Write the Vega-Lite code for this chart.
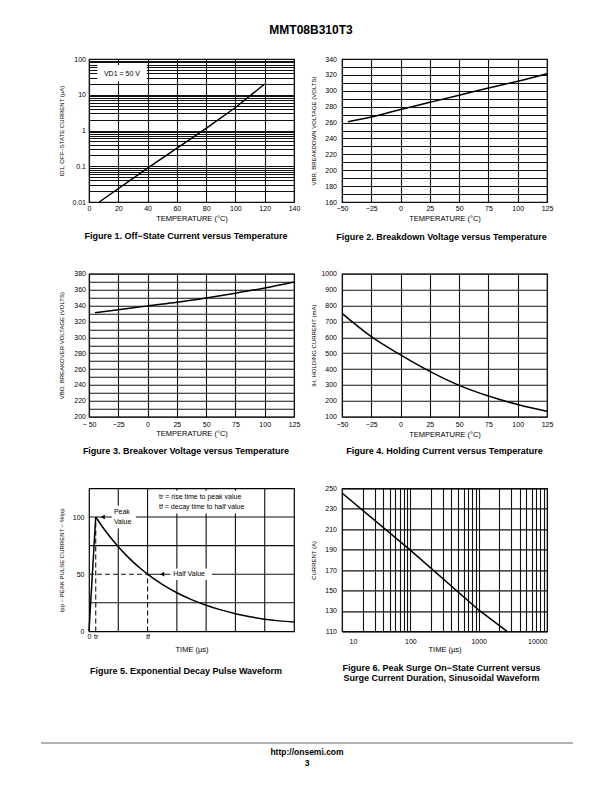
{
"$schema":"https://vega.github.io/schema/vega-lite/v6.json",
"background":"#ffffff",
"padding":{"left":40,"top":24,"right":5,"bottom":5},
"title":{"text":"MMT08B310T3","fontSize":12,"fontWeight":"bold","anchor":"middle","frame":"bounds","offset":17,"dx":4},
"config":{
 "font":"Liberation Sans",
 "view":{"stroke":"#000","strokeWidth":1.2},
 "axis":{"labelFont":"Liberation Sans","labelFontSize":7,"labelColor":"#000","titleFont":"Liberation Sans","titleFontWeight":"normal","titleColor":"#000","ticks":false,"tickSize":0,"domain":false,"gridColor":"#111","gridWidth":1.1,"gridOpacity":1,"labelOverlap":false,"labelFlush":false,"labelBound":false},
 "axisX":{"titleFontSize":7.5},
 "axisY":{"titleFontSize":6,"minExtent":20,"maxExtent":20},
 "title":{"font":"Liberation Sans","fontSize":9,"fontWeight":"bold","color":"#000"}
},
"datasets":{
 "f1":[{"x":7,"y":0.01},{"x":40,"y":0.089},{"x":80,"y":1.15},{"x":100,"y":4.4},{"x":120,"y":20}],
 "f1box":[{"x":5.7,"x2":39.4,"y":23.3,"y2":68,"tx":22.5,"ty":37,"label":"VD1 = 50 V"}],
 "f2":[{"x":-45,"y":261},{"x":-25,"y":267},{"x":0,"y":276.5},{"x":25,"y":285.5},{"x":50,"y":294.5},{"x":75,"y":303.5},{"x":100,"y":312},{"x":125,"y":321.5}],
 "f3":[{"x":-45,"y":331},{"x":-25,"y":334.5},{"x":0,"y":339.5},{"x":25,"y":344},{"x":50,"y":349.5},{"x":75,"y":355.5},{"x":100,"y":362},{"x":125,"y":369.5}],
 "f4":[{"x":-50,"y":750},{"x":-25,"y":604},{"x":0,"y":489},{"x":25,"y":385},{"x":50,"y":297},{"x":75,"y":230},{"x":100,"y":177},{"x":125,"y":134}],
 "f5grid":[{"x":1,"x2":1,"y":0,"y2":125},{"x":2,"x2":2,"y":50,"y2":125},{"x":3,"x2":3,"y":0,"y2":125},{"x":4,"x2":4,"y":0,"y2":125},{"x":5,"x2":5,"y":0,"y2":125},{"x":6,"x2":6,"y":0,"y2":125},{"x":0,"x2":7,"y":25,"y2":25},{"x":0,"x2":7,"y":75,"y2":75},{"x":0,"x2":7,"y":100,"y2":100},{"x":2,"x2":7,"y":50,"y2":50}],
 "f5dash":[{"x":0.23,"x2":0.23,"y":0,"y2":100},{"x":2,"x2":2,"y":0,"y2":50},{"x":0,"x2":2,"y":50,"y2":50}],
 "f5box":[{"x":0.78,"x2":1.6,"y":90,"y2":110},{"x":2.3,"x2":5.9,"y":103,"y2":123},{"x":2.78,"x2":4.2,"y":45,"y2":55}],
 "f5rise":[{"x":0,"y":0},{"x":0.23,"y":100}],
 "f5decay":[{"x":0.23,"y":100},{"x":0.5,"y":89.9},{"x":0.75,"y":81.6},{"x":1,"y":74},{"x":1.25,"y":67.1},{"x":1.5,"y":60.8},{"x":1.75,"y":55.2},{"x":2,"y":50},{"x":2.5,"y":41.1},{"x":3,"y":33.8},{"x":3.5,"y":27.8},{"x":4,"y":22.9},{"x":4.5,"y":18.8},{"x":5,"y":15.5},{"x":5.5,"y":12.8},{"x":6,"y":10.6},{"x":6.5,"y":9.2},{"x":7,"y":8.3}],
 "f5text":[{"x":0.85,"y":104.5,"label":"Peak"},{"x":0.85,"y":95.5,"label":"Value"},{"x":2.875,"y":50,"label":"Half Value"},{"x":2.39,"y":117.5,"label":"tr = rise time to peak value"},{"x":2.39,"y":108.7,"label":"tf = decay time to half value"}],
 "f5arrow":[{"x":0.47,"y":100},{"x":2.5,"y":50}],
 "f6":[{"x":10,"y":245.5},{"x":100,"y":189.5},{"x":1000,"y":131},{"x":2600,"y":110}],
 "foot":[{"x":-0.234,"x2":2.361,"y":0}]
},
"bounds":"flush",
"columns":2,
"spacing":{"row":71.7,"column":48},
"concat":[
   {"width":205,"height":143,
    "title":{"text":"Figure 1. Off−State Current versus Temperature","orient":"bottom","offset":10,"dx":-5.5,"frame":"group","anchor":"middle"},
    "encoding":{
       "x":{"field":"x","type":"quantitative","scale":{"domain":[0,140],"nice":false,"zero":false},
        "axis":{"title":"TEMPERATURE (°C)","values":[0,20,40,60,80,100,120,140],"labelOverlap":false,"labelPadding":2.5,"titlePadding":3}},
       "y":{"field":"y","type":"quantitative","scale":{"type":"log","domain":[0.01,100],"nice":false},
        "axis":{"title":"ID1, OFF−STATE CURRENT (µA)","values":[0.01,0.02,0.03,0.04,0.05,0.06,0.07,0.08,0.09,0.1,0.2,0.3,0.4,0.5,0.6,0.7,0.8,0.9,1,2,3,4,5,6,7,8,9,10,20,30,40,50,60,70,80,90,100],"format":"~g","labelOverlap":false,"labelExpr":"(datum.value==0.01||datum.value==0.1||datum.value==1||datum.value==10||datum.value==100) ? datum.label : ''","labelPadding":3.5,"titlePadding":4.5}}},
    "layer":[
     {"data":{"name":"f1"},"mark":{"type":"line","color":"#000","strokeWidth":1.5}},
     {"data":{"name":"f1box"},"mark":{"type":"rect","fill":"#ffffff"},
      "encoding":{"x2":{"field":"x2"},"y2":{"field":"y2"}}},
     {"data":{"name":"f1box"},"mark":{"type":"text","fontSize":7,"align":"center","baseline":"middle","color":"#000"},
      "encoding":{"x":{"field":"tx","type":"quantitative"},"y":{"field":"ty","type":"quantitative"},"text":{"field":"label"}}}
    ]},
   {"width":205,"height":143,
    "title":{"text":"Figure 2. Breakdown Voltage versus Temperature","orient":"bottom","offset":11,"dx":-3,"frame":"group","anchor":"middle"},
    "data":{"name":"f2"},
    "mark":{"type":"line","interpolate":"monotone","color":"#000","strokeWidth":1.5},
    "encoding":{
     "x":{"field":"x","type":"quantitative","scale":{"domain":[-50,125],"nice":false,"zero":false},
      "axis":{"title":"TEMPERATURE (°C)","values":[-50,-25,0,25,50,75,100,125],"labelPadding":2.5,"titlePadding":3}},
     "y":{"field":"y","type":"quantitative","scale":{"domain":[160,340],"nice":false,"zero":false},
      "axis":{"title":"VBR, BREAKDOWN VOLTAGE (VOLTS)","values":[160,170,180,190,200,210,220,230,240,250,260,270,280,290,300,310,320,330,340],"labelExpr":"datum.value % 20 == 0 ? datum.label : ''","labelPadding":5.5,"titlePadding":5.5}}}},
   {"width":205,"height":143,
    "title":{"text":"Figure 3. Breakover Voltage versus Temperature","orient":"bottom","offset":9.5,"dx":-5.5,"frame":"group","anchor":"middle"},
    "data":{"name":"f3"},
    "mark":{"type":"line","interpolate":"monotone","color":"#000","strokeWidth":1.5},
    "encoding":{
     "x":{"field":"x","type":"quantitative","scale":{"domain":[-50,125],"nice":false,"zero":false},
      "axis":{"title":"TEMPERATURE (°C)","values":[-50,-25,0,25,50,75,100,125],"labelExpr":"datum.value == -50 ? '− 50' : datum.label","labelPadding":4,"titlePadding":2}},
     "y":{"field":"y","type":"quantitative","scale":{"domain":[200,380],"nice":false,"zero":false},
      "axis":{"title":"VBO, BREAKOVER VOLTAGE (VOLTS)","values":[200,210,220,230,240,250,260,270,280,290,300,310,320,330,340,350,360,370,380],"labelExpr":"datum.value % 20 == 0 ? datum.label : ''","labelPadding":3.5,"titlePadding":4.5}}}},
   {"width":205,"height":143,
    "title":{"text":"Figure 4. Holding Current versus Temperature","orient":"bottom","offset":9,"dx":0,"frame":"group","anchor":"middle"},
    "data":{"name":"f4"},
    "mark":{"type":"line","interpolate":"monotone","color":"#000","strokeWidth":1.5},
    "encoding":{
     "x":{"field":"x","type":"quantitative","scale":{"domain":[-50,125],"nice":false,"zero":false},
      "axis":{"title":"TEMPERATURE (°C)","values":[-50,-25,0,25,50,75,100,125],"labelPadding":3.5,"titlePadding":3}},
     "y":{"field":"y","type":"quantitative","scale":{"domain":[100,1000],"nice":false,"zero":false},
      "axis":{"title":"IH, HOLDING CURRENT (mA)","values":[100,200,300,400,500,600,700,800,900,1000],"format":"d","labelPadding":5.5,"titlePadding":5.5}}}},
  {"width":205,"height":143,
   "title":{"text":"Figure 5. Exponential Decay Pulse Waveform","orient":"bottom","offset":14,"dx":-5.5,"frame":"group","anchor":"middle"},
   "layer":[
    {"data":{"name":"f5grid"},"mark":{"type":"rule","color":"#111","strokeWidth":1.1},
     "encoding":{
      "x":{"field":"x","type":"quantitative","scale":{"domain":[0,7],"nice":false,"zero":false},
       "axis":{"title":"TIME (µs)","values":[0,0.23,2],"grid":false,"labelOverlap":false,"labelExpr":"datum.value == 0 ? '0' : (datum.value == 2 ? 'tf' : 'tr')","labelPadding":1,"titlePadding":6.5}},
      "x2":{"field":"x2"},
      "y":{"field":"y","type":"quantitative","scale":{"domain":[0,125],"nice":false,"zero":false},
       "axis":{"title":"Ipp − PEAK PULSE CURRENT − %Ipp","values":[0,50,100],"grid":false,"labelPadding":5,"titlePadding":4.5}},
      "y2":{"field":"y2"}}},
    {"data":{"name":"f5dash"},"mark":{"type":"rule","color":"#111","strokeWidth":1.1,"strokeDash":[5,3]},
     "encoding":{"x":{"field":"x","type":"quantitative"},"x2":{"field":"x2"},"y":{"field":"y","type":"quantitative"},"y2":{"field":"y2"}}},
    {"data":{"name":"f5box"},"mark":{"type":"rect","fill":"#ffffff"},
     "encoding":{"x":{"field":"x","type":"quantitative"},"x2":{"field":"x2"},"y":{"field":"y","type":"quantitative"},"y2":{"field":"y2"}}},
    {"data":{"name":"f5rise"},"mark":{"type":"line","color":"#000","strokeWidth":1.5},
     "encoding":{"x":{"field":"x","type":"quantitative"},"y":{"field":"y","type":"quantitative"}}},
    {"data":{"name":"f5decay"},"mark":{"type":"line","interpolate":"monotone","color":"#000","strokeWidth":1.5},
     "encoding":{"x":{"field":"x","type":"quantitative"},"y":{"field":"y","type":"quantitative"}}},
    {"data":{"name":"f5text"},"mark":{"type":"text","fontSize":7,"align":"left","baseline":"middle","color":"#000"},
     "encoding":{"x":{"field":"x","type":"quantitative"},"y":{"field":"y","type":"quantitative"},"text":{"field":"label"}}},
    {"data":{"name":"f5arrow"},"mark":{"type":"point","shape":"triangle-left","filled":true,"color":"#000","size":22,"opacity":1},
     "encoding":{"x":{"field":"x","type":"quantitative"},"y":{"field":"y","type":"quantitative"}}}
   ]},
  {"width":205,"height":143,
   "title":{"text":["Figure 6. Peak Surge On−State Current versus","Surge Current Duration, Sinusoidal Waveform"],"orient":"bottom","offset":11,"dx":-3,"frame":"group","anchor":"middle","lineHeight":9.5},
   "data":{"name":"f6"},
   "mark":{"type":"line","color":"#000","strokeWidth":1.5},
   "encoding":{
    "x":{"field":"x","type":"quantitative","scale":{"type":"log","domain":[10,10000],"nice":false},
     "axis":{"title":"TIME (µs)","values":[10,20,30,40,50,60,70,80,90,100,200,300,400,500,600,700,800,900,1000,2000,3000,4000,5000,6000,7000,8000,9000,10000],"format":"d","labelOverlap":false,"labelExpr":"indexof([10,100,1000,10000], datum.value) >= 0 ? datum.label : ''","labelAlign":{"condition":{"test":"datum.value == 10000","value":"right"},"value":"center"},"labelOffset":{"condition":{"test":"datum.value == 10","value":11},"value":0},"labelPadding":6.5,"titlePadding":1}},
    "y":{"field":"y","type":"quantitative","scale":{"domain":[110,250],"nice":false,"zero":false},
     "axis":{"title":"CURRENT (A)","values":[110,130,150,170,190,210,230,250],"labelPadding":5.5,"titlePadding":5.5}}}},
 {"width":205,"height":40,
  "view":{"stroke":null},
  "title":{"text":["http://onsemi.com","3"],"orient":"bottom","fontSize":8.5,"lineHeight":11,"offset":4,"frame":"bounds","anchor":"middle"},
  "data":{"name":"foot"},
  "mark":{"type":"rule","color":"#999999","strokeWidth":1.5},
  "encoding":{
   "x":{"field":"x","type":"quantitative","scale":{"domain":[0,1],"nice":false,"zero":false},"axis":null},
   "x2":{"field":"x2"},
   "y":{"field":"y","type":"quantitative","scale":{"domain":[0,1],"nice":false,"zero":false},"axis":null}}}
]
}
